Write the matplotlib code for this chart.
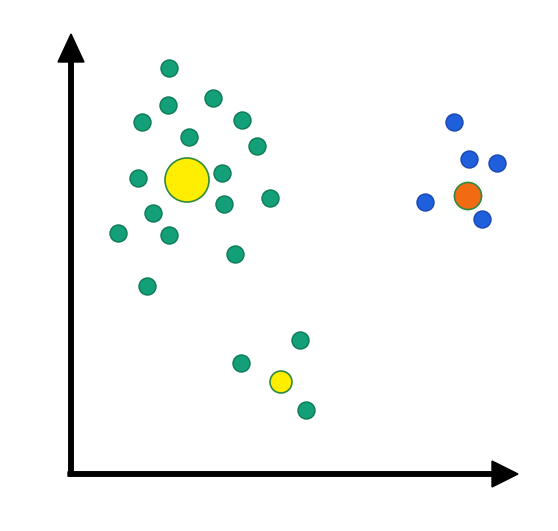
import matplotlib
matplotlib.use("Agg")
from matplotlib import pyplot as plt

# points, origin at the corner of the axes arrows
green_x = [98, 97, 142, 71, 118, 171, 186, 67, 151, 153, 199, 82, 47, 98, 164, 76,
           229, 170, 235]
green_y = [406, 369, 376, 352, 337, 354, 328, 296, 301, 270, 276, 261, 241, 239, 220, 188,
           134, 111, 64]
blue_x = [383, 398, 426, 354, 411]
blue_y = [352, 315, 311, 272, 255]
centre_x = [116, 210, 397]
centre_y = [294, 92, 278]
centre_size = [1005, 250, 380]
centre_color = ['#ffee00', '#ffee00', '#f26a12']

fig = plt.figure(figsize=(5.58, 5.31), dpi=100)
ax = fig.add_axes([0, 0, 1, 1])
ax.set_xlim(-71, 487)
ax.set_ylim(-57, 474)
ax.axis('off')

ax.arrow(0, -2, 0, 442, width=4.5, head_width=26, head_length=28,
         length_includes_head=True, color='black', zorder=1)
ax.arrow(-3, 0, 450, 0, width=4.5, head_width=26, head_length=26,
         length_includes_head=True, color='black', zorder=1)

ax.scatter(green_x, green_y, s=150, c='#13a078', edgecolors='#0b7a55', linewidths=1, zorder=2)
ax.scatter(blue_x, blue_y, s=150, c='#1f5fdc', edgecolors='#1a48b0', linewidths=1, zorder=2)
ax.scatter(centre_x, centre_y, s=centre_size, c=centre_color, edgecolors='#2f8a40',
           linewidths=1.2, zorder=3)

fig.savefig('out.png', dpi=100, facecolor='white')
